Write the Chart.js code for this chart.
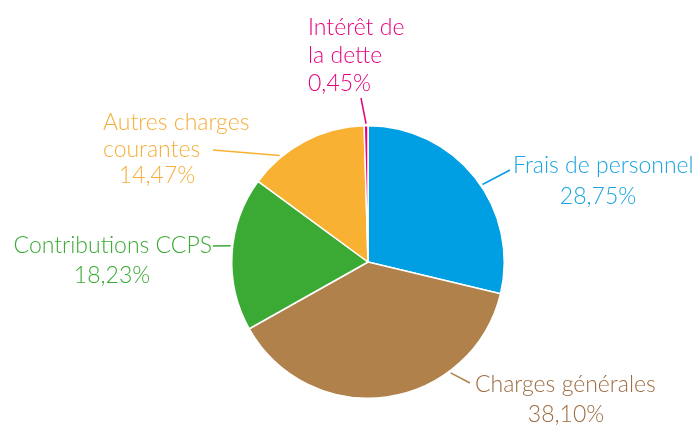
<!DOCTYPE html>
<html lang="fr">
<head>
  <meta charset="UTF-8">
  <title>Répartition des charges</title>
  <script src="https://cdn.jsdelivr.net/npm/chart.js"></script>
  <style>
    body {
      margin: 0;
      background: #ffffff;
    }
    .chart-box {
      width: 699px;
      height: 425px;
    }
  </style>
</head>
<body>
  <div class="chart-box">
    <canvas id="chargesPie" width="699" height="425"></canvas>
  </div>

  <script>
    const labels = [
      'Frais de personnel',
      'Charges générales',
      'Contributions CCPS',
      'Autres charges courantes',
      'Intérêt de la dette'
    ];
    const shares = [28.75, 38.10, 18.23, 14.47, 0.45];
    const colors = ['#009fe3', '#b0814b', '#3aaa35', '#f8b133', '#e6007e'];
    const textColors = ['#1aa3e0', '#9c6c43', '#3aaa35', '#f6ae3a', '#e6007e'];

    // label placement: text lines, leader line anchor (fraction of slice) and end point
    const labelLayout = [
      { lines: [['Frais de personnel', 513, 173, 'left'], ['%', 598, 204, 'center']], frac: 0.54, end: [510, 170] },
      { lines: [['Charges générales', 475, 392, 'left'], ['%', 566, 422, 'center']], frac: 0.29, end: [470, 383] },
      { lines: [['Contributions CCPS', 212, 253, 'right'], ['%', 112, 283, 'center']], frac: 0.55, end: [213, 246] },
      { lines: [['Autres charges', 103, 130, 'left'], ['courantes', 103, 157, 'left'], ['%', 157, 183, 'center']], frac: 0.27, end: [213, 150] },
      { lines: [['Intérêt de', 308, 35, 'left'], ['la dette', 308, 63, 'left'], ['%', 308, 91, 'left']], frac: 0.5, end: [361, 98] }
    ];

    const fmt = v => v.toFixed(2).replace('.', ',') + '%';

    const sliceLabels = {
      id: 'sliceLabels',
      afterDraw(chart) {
        const ctx = chart.ctx;
        const arcs = chart.getDatasetMeta(0).data;
        ctx.save();
        ctx.font = '300 23px Lato, "DejaVu Sans", sans-serif';
        ctx.textBaseline = 'alphabetic';
        arcs.forEach((arc, i) => {
          const cfg = labelLayout[i];
          const a = arc.startAngle + (arc.endAngle - arc.startAngle) * cfg.frac;
          const r = arc.outerRadius + 2;
          ctx.strokeStyle = colors[i];
          ctx.lineWidth = 1.5;
          ctx.beginPath();
          ctx.moveTo(arc.x + Math.cos(a) * r, arc.y + Math.sin(a) * r);
          ctx.lineTo(cfg.end[0], cfg.end[1]);
          ctx.stroke();
          ctx.fillStyle = textColors[i];
          cfg.lines.forEach(([txt, x, y, align]) => {
            ctx.textAlign = align;
            ctx.fillText(txt === '%' ? fmt(shares[i]) : txt, x, y);
          });
        });
        ctx.restore();
      }
    };

    new Chart(document.getElementById('chargesPie'), {
      type: 'pie',
      data: {
        labels: labels,
        datasets: [{
          data: shares,
          backgroundColor: colors,
          borderColor: '#ffffff',
          borderWidth: 1.5
        }]
      },
      options: {
        responsive: false,
        animation: false,
        layout: {
          padding: { top: 125, bottom: 26, left: 231, right: 194 }
        },
        plugins: {
          legend: { display: false },
          tooltip: { enabled: false }
        }
      },
      plugins: [sliceLabels]
    });
  </script>
</body>
</html>
